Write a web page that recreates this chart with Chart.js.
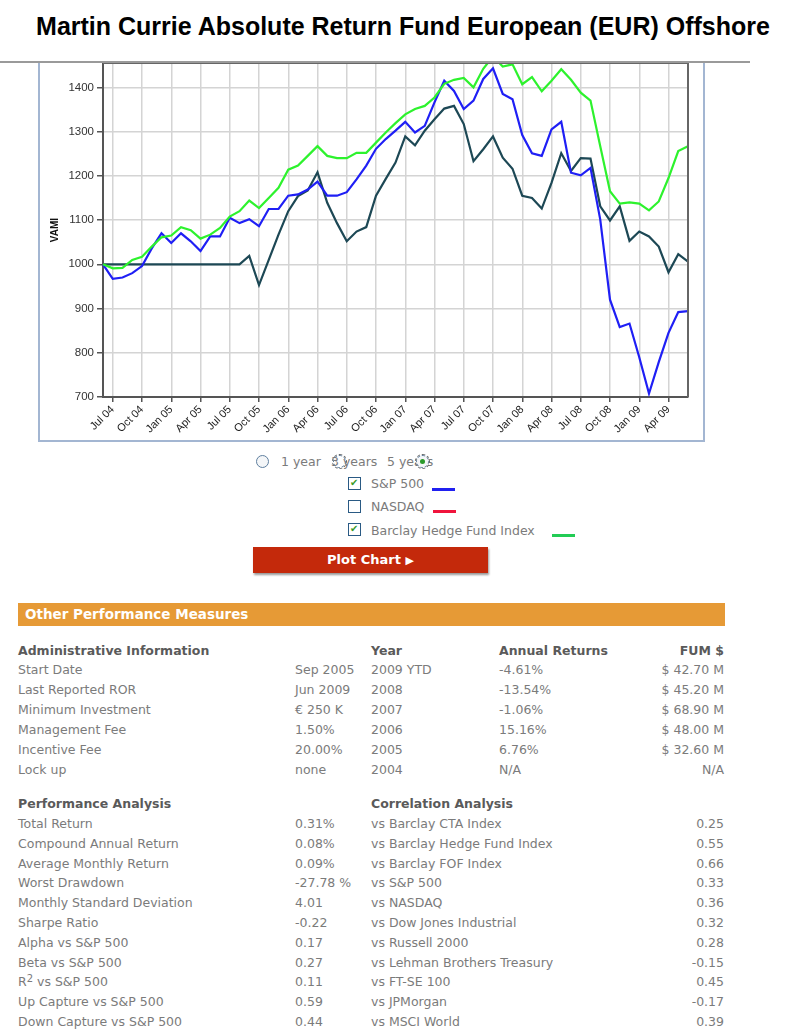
<!DOCTYPE html>
<html>
<head>
<meta charset="utf-8">
<script src="https://cdn.jsdelivr.net/npm/chart.js@4.4.1/dist/chart.umd.min.js"></script>
<style>
  body { margin: 0; background: #fff; width: 810px; height: 1029px; position: relative; overflow: hidden;
         font-family: "DejaVu Sans", Verdana, sans-serif; font-size: 12.5px; color: #7b7b7b; }
  .abs { position: absolute; white-space: nowrap; }
  #title { left: 0; top: 12px; width: 806px; text-align: center; line-height: 30px; color: #000;
           font: bold 25px "Liberation Sans", Arial, sans-serif; }
  #divider { left: 0; top: 61px; width: 750px; height: 2px; background: #9a9a9a; }
  #frame { left: 38px; top: 62px; width: 663px; height: 378px; border: 2px solid #a3b6d2; border-top: none; }
  #chartBox { left: 40px; top: 63px; width: 663px; height: 377px; }
  .radio { width: 11px; height: 11px; border-radius: 50%; border: 1.5px solid #5f7f9f; background: #f4f6f8; }
  .radio.focus { outline: 1px dashed #666; outline-offset: 0; border-style: dashed; }
  .radio .dot { position: absolute; left: 3px; top: 3px; width: 5px; height: 5px; border-radius: 50%; background: #2a9a2a; }
  .box { width: 11px; height: 11px; border: 1.5px solid #2a5a84; background: #fff; }
  .box .tick { position: absolute; left: 1px; top: -2px; font-size: 10px; color: #3a9a2a; line-height: 14px; }
  .swatch { height: 3px; width: 23px; }
  #plotBtn { left: 253px; top: 547px; width: 235px; height: 26px; background: #c4290b; color: #fff;
             font-weight: bold; font-size: 13px; line-height: 26px; text-align: center;
             box-shadow: 1px 2px 2px #999; }
  #bar { left: 18px; top: 603px; width: 707px; height: 23px; background: #e69a36; color: #fff;
         font-weight: bold; font-size: 13.5px; line-height: 23px; }
  .hd { font-weight: bold; color: #5a5a5a; }
</style>
</head>
<body>
<div id="title" class="abs">Martin Currie Absolute Return Fund European (EUR) Offshore</div>
<div id="frame" class="abs"></div>
<div id="chartBox" class="abs"><canvas id="vamiChart"></canvas></div>
<div id="divider" class="abs"></div>

<!-- period radios -->
<div class="abs radio" style="left:256px;top:455px;"></div>
<div class="abs" style="left:281px;top:452px;line-height:20px;">1 year</div>
<div class="abs" style="left:331px;top:452px;line-height:20px;">3 years</div>
<div class="abs radio focus" style="left:333px;top:455px;background:transparent;"></div>
<div class="abs" style="left:387px;top:452px;line-height:20px;">5 years</div>
<div class="abs radio focus" style="left:416px;top:455px;"><div class="dot"></div></div>

<!-- benchmark checkboxes -->
<div class="abs box" style="left:348px;top:477px;"><span class="tick">✔</span></div>
<div class="abs" style="left:371px;top:474px;line-height:20px;">S&amp;P 500</div>
<div class="abs swatch" style="left:432px;top:488px;background:#2020f0;"></div>
<div class="abs box" style="left:348px;top:500px;"></div>
<div class="abs" style="left:371px;top:497px;line-height:20px;">NASDAQ</div>
<div class="abs swatch" style="left:433px;top:510px;background:#f0143c;"></div>
<div class="abs box" style="left:348px;top:523px;"><span class="tick">✔</span></div>
<div class="abs" style="left:371px;top:521px;line-height:20px;">Barclay Hedge Fund Index</div>
<div class="abs swatch" style="left:552px;top:534px;background:#22cc55;"></div>

<div id="plotBtn" class="abs">Plot Chart <span style="font-size:11px;">▶</span></div>

<div id="bar" class="abs"><span style="margin-left:7px;">Other Performance Measures</span></div>
<div id="tables"></div>

<script>
// Chart data (VAMI, monthly, Jun 2004 - Jun 2009)
const months = [
  "Jun 04","Jul 04","Aug 04","Sep 04","Oct 04","Nov 04","Dec 04",
  "Jan 05","Feb 05","Mar 05","Apr 05","May 05","Jun 05","Jul 05","Aug 05","Sep 05","Oct 05","Nov 05","Dec 05",
  "Jan 06","Feb 06","Mar 06","Apr 06","May 06","Jun 06","Jul 06","Aug 06","Sep 06","Oct 06","Nov 06","Dec 06",
  "Jan 07","Feb 07","Mar 07","Apr 07","May 07","Jun 07","Jul 07","Aug 07","Sep 07","Oct 07","Nov 07","Dec 07",
  "Jan 08","Feb 08","Mar 08","Apr 08","May 08","Jun 08","Jul 08","Aug 08","Sep 08","Oct 08","Nov 08","Dec 08",
  "Jan 09","Feb 09","Mar 09","Apr 09","May 09","Jun 09"
];
const xTickLabels = [
  "Jul 04","Oct 04","Jan 05","Apr 05","Jul 05","Oct 05","Jan 06","Apr 06","Jul 06","Oct 06",
  "Jan 07","Apr 07","Jul 07","Oct 07","Jan 08","Apr 08","Jul 08","Oct 08","Jan 09","Apr 09"
];
const yTicks = [700, 800, 900, 1000, 1100, 1200, 1300, 1400];

const fundVami = [
  1000,1000,1000,1000,1000,1000,1000,
  1000,1000,1000,1000,1000,1000,1000,1000,1019,953,1010,1067,
  1120,1154,1167,1208,1139,1093,1052,1074,1084,1155,1193,1230,
  1289,1269,1302,1328,1352,1358,1317,1233,1260,1289,1241,1216,
  1155,1150,1126,1184,1251,1211,1240,1239,1131,1099,1131,1053,
  1074,1063,1040,982,1023,1006
];
const sp500Vami = [
  1000,967,970,980,996,1036,1070,
  1048,1070,1052,1030,1063,1063,1105,1093,1102,1086,1125,1125,
  1155,1158,1169,1187,1155,1155,1163,1192,1223,1261,1283,1302,
  1322,1298,1313,1366,1415,1392,1351,1370,1419,1443,1385,1373,
  1292,1251,1245,1305,1322,1207,1201,1218,1101,920,858,866,
  790,708,779,845,892,894
];
const barclayVami = [
  1000,991,992,1010,1017,1040,1061,
  1065,1084,1077,1058,1067,1082,1108,1120,1144,1127,1150,1173,
  1214,1223,1245,1267,1245,1240,1240,1252,1252,1275,1298,1319,
  1339,1351,1358,1377,1408,1417,1421,1400,1442,1470,1447,1452,
  1407,1423,1391,1415,1441,1417,1388,1370,1267,1165,1137,1140,
  1137,1122,1142,1195,1256,1267
];

// Table data
const adminInfo = [
  ["Start Date", "Sep 2005"], ["Last Reported ROR", "Jun 2009"], ["Minimum Investment", "€ 250 K"],
  ["Management Fee", "1.50%"], ["Incentive Fee", "20.00%"], ["Lock up", "none"]
];
const annualReturns = [
  ["2009 YTD", "-4.61%", "$ 42.70 M"], ["2008", "-13.54%", "$ 45.20 M"], ["2007", "-1.06%", "$ 68.90 M"],
  ["2006", "15.16%", "$ 48.00 M"], ["2005", "6.76%", "$ 32.60 M"], ["2004", "N/A", "N/A"]
];
const perfAnalysis = [
  ["Total Return", "0.31%"], ["Compound Annual Return", "0.08%"], ["Average Monthly Return", "0.09%"],
  ["Worst Drawdown", "-27.78 %"], ["Monthly Standard Deviation", "4.01"], ["Sharpe Ratio", "-0.22"],
  ["Alpha vs S&amp;P 500", "0.17"], ["Beta vs S&amp;P 500", "0.27"],
  ["R<span style=\"position:relative;top:-4px;font-size:10px;\">2</span> vs S&amp;P 500", "0.11"],
  ["Up Capture vs S&amp;P 500", "0.59"], ["Down Capture vs S&amp;P 500", "0.44"]
];
const correlation = [
  ["vs Barclay CTA Index", "0.25"], ["vs Barclay Hedge Fund Index", "0.55"], ["vs Barclay FOF Index", "0.66"],
  ["vs S&amp;P 500", "0.33"], ["vs NASDAQ", "0.36"], ["vs Dow Jones Industrial", "0.32"],
  ["vs Russell 2000", "0.28"], ["vs Lehman Brothers Treasury", "-0.15"], ["vs FT-SE 100", "0.45"],
  ["vs JPMorgan", "-0.17"], ["vs MSCI World", "0.39"]
];

const tables = document.getElementById("tables");

function addText(html, x, yCenter, cls, alignRight) {
  const d = document.createElement("div");
  d.className = "abs " + (cls || "");
  d.style.top = (yCenter - 10) + "px";
  d.style.lineHeight = "20px";
  if (alignRight) d.style.right = (810 - x) + "px";
  else d.style.left = x + "px";
  d.innerHTML = html;
  tables.appendChild(d);
}

// Administrative information + annual returns
addText("Administrative Information", 18, 651, "hd");
addText("Year", 371, 651, "hd");
addText("Annual Returns", 499, 651, "hd");
addText("FUM $", 724, 651, "hd", true);
adminInfo.forEach((row, i) => {
  const y = 670 + i * 20;
  addText(row[0], 18, y);
  addText(row[1], 295, y);
});
annualReturns.forEach((row, i) => {
  const y = 670 + i * 20;
  addText(row[0], 371, y);
  addText(row[1], 499, y);
  addText(row[2], 724, y, "", true);
});

// Performance + correlation analysis
addText("Performance Analysis", 18, 804, "hd");
addText("Correlation Analysis", 371, 804, "hd");
perfAnalysis.forEach((row, i) => {
  const y = 824 + i * 19.8;
  addText(row[0], 18, y);
  addText(row[1], 295, y);
});
correlation.forEach((row, i) => {
  const y = 824 + i * 19.8;
  addText(row[0], 371, y);
  addText(row[1], 724, y, "", true);
});

// frame the plot area on top/right like the original chart
const plotBorder = {
  id: "plotBorder",
  afterDraw(chart) {
    const { ctx, chartArea: a } = chart;
    ctx.save();
    ctx.strokeStyle = "#666";
    ctx.lineWidth = 2;
    ctx.beginPath();
    ctx.moveTo(a.left, a.top);
    ctx.lineTo(a.right, a.top);
    ctx.lineTo(a.right, a.bottom);
    ctx.stroke();
    ctx.restore();
  }
};

new Chart(document.getElementById("vamiChart"), {
  type: "line",
  data: {
    labels: months,
    datasets: [
      { label: "Barclay Hedge Fund Index", data: barclayVami, borderColor: "#2df22d", borderWidth: 2.2, pointRadius: 0, tension: 0 },
      { label: "S&P 500", data: sp500Vami, borderColor: "#1f1ff5", borderWidth: 2.2, pointRadius: 0, tension: 0 },
      { label: "Martin Currie Absolute Return Fund European (EUR) Offshore", data: fundVami, borderColor: "#1d4855", borderWidth: 2.2, pointRadius: 0, tension: 0 }
    ]
  },
  options: {
    responsive: true,
    maintainAspectRatio: false,
    animation: false,
    layout: { padding: { left: 0, right: 15, top: 0, bottom: 0 } },
    plugins: { legend: { display: false }, tooltip: { enabled: false } },
    scales: {
      x: {
        afterFit: s => { s.height = 43; s.paddingLeft = 0; s.paddingRight = 0; },
        grid: { color: "#d4d4d4", lineWidth: 1.5, tickColor: "#555", tickLength: 5 },
        border: { color: "#555", width: 2 },
        ticks: {
          autoSkip: false, maxRotation: 45, minRotation: 45, padding: 1,
          color: "#222", font: { family: "Liberation Sans, Arial", size: 11 },
          callback: function (v) {
            const lab = months[v];
            return xTickLabels.includes(lab) ? lab : null;
          }
        }
      },
      y: {
        min: 700, max: 1455,
        afterFit: s => { s.width = 63; s.paddingTop = 0; s.paddingBottom = 0; },
        afterBuildTicks: s => { s.ticks = yTicks.map(v => ({ value: v })); },
        title: { display: true, text: "VAMI", color: "#111", padding: { top: 9, bottom: 0 },
                 font: { family: "Liberation Sans, Arial", size: 10, weight: "bold" } },
        grid: { color: "#d4d4d4", lineWidth: 1.5, tickColor: "#555", tickLength: 6 },
        border: { color: "#555", width: 2 },
        ticks: { stepSize: 100, includeBounds: false, padding: 3, color: "#333",
                 font: { family: "Liberation Sans, Arial", size: 11.5 },
                 callback: v => String(v) }
      }
    }
  },
  plugins: [plotBorder]
});
</script>
</body>
</html>
